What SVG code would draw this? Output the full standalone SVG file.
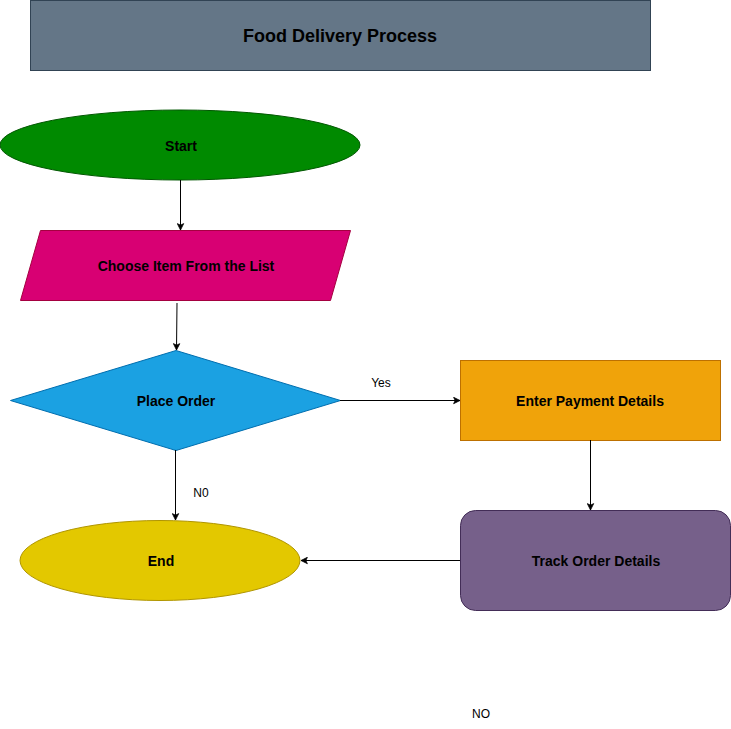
<svg xmlns="http://www.w3.org/2000/svg" width="731" height="729" viewBox="0 0 731 729">
<defs>
<style>
.lbl{font-family:"Liberation Sans",Arial,Helvetica,sans-serif;font-size:14px;font-weight:bold;fill:#000;text-anchor:middle;dominant-baseline:central}
.edge{font-family:"Liberation Sans",Arial,Helvetica,sans-serif;font-size:12px;fill:#000;text-anchor:middle;dominant-baseline:central}
.conn{fill:none;stroke:#000;stroke-width:1}
</style>
<marker id="arr" viewBox="0 0 10 10" refX="9" refY="5" markerWidth="8" markerHeight="8" markerUnits="userSpaceOnUse" orient="auto">
<path d="M1,1 L9,5 L1,9 L3,5 Z" fill="#000" stroke="#000" stroke-width="1"/>
</marker>
</defs>
<rect width="731" height="729" fill="#fff"/>
<g id="title">
<rect x="30.5" y="0.5" width="620" height="70" fill="#647687" stroke="#314354"/>
<text x="340" y="36" class="lbl" style="font-size:18px">Food Delivery Process</text>
</g>
<g id="start">
<ellipse cx="180" cy="145" rx="180" ry="35" fill="#008a00" stroke="#005700"/>
<text x="181" y="146" class="lbl">Start</text>
</g>
<g id="choose">
<polygon points="40.5,230.5 350.5,230.5 330.5,300.5 20.5,300.5" fill="#d80073" stroke="#a50040"/>
<text x="186" y="266" class="lbl">Choose Item From the List</text>
</g>
<g id="place">
<polygon points="176,350.5 340.5,400.5 176,450.5 10.5,400.5" fill="#1ba1e2" stroke="#006eaf"/>
<text x="176" y="401" class="lbl">Place Order</text>
</g>
<g id="payment">
<rect x="460.5" y="360.5" width="260" height="80" fill="#f0a30a" stroke="#bd7000"/>
<text x="590" y="401" class="lbl">Enter Payment Details</text>
</g>
<g id="track">
<rect x="460.5" y="510.5" width="270" height="100" rx="15" ry="15" fill="#76608a" stroke="#432d57"/>
<text x="596" y="561" class="lbl">Track Order Details</text>
</g>
<g id="end">
<ellipse cx="160" cy="560.5" rx="140" ry="40" fill="#e3c800" stroke="#b09500"/>
<text x="161" y="561" class="lbl">End</text>
</g>
<g id="connectors">
<line x1="180.5" y1="180" x2="180.5" y2="230" class="conn" marker-end="url(#arr)"/>
<line x1="177" y1="303" x2="176.5" y2="350" class="conn" marker-end="url(#arr)"/>
<line x1="340" y1="400.5" x2="460" y2="400.5" class="conn" marker-end="url(#arr)"/>
<line x1="590.5" y1="440" x2="590.5" y2="510" class="conn" marker-end="url(#arr)"/>
<line x1="460" y1="560.5" x2="301" y2="560.5" class="conn" marker-end="url(#arr)"/>
<line x1="175.5" y1="450" x2="175.5" y2="520" class="conn" marker-end="url(#arr)"/>
<text x="381" y="383" class="edge">Yes</text>
<text x="201" y="493" class="edge">N0</text>
<text x="481" y="714" class="edge">NO</text>
</g>
</svg>
